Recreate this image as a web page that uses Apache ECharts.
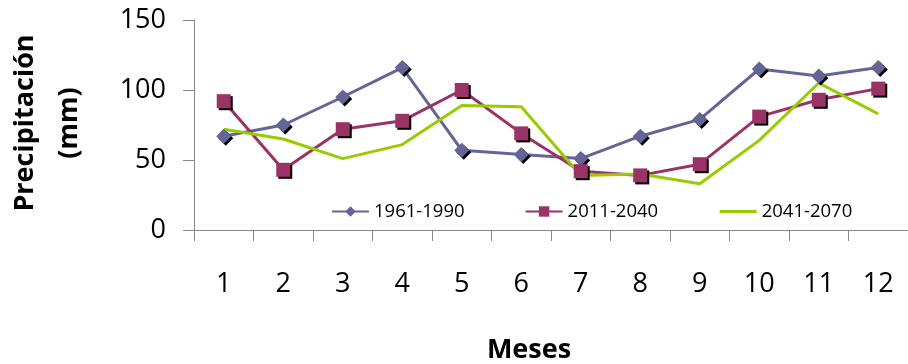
<!DOCTYPE html>
<html><head><meta charset="utf-8">
<script src="https://cdn.jsdelivr.net/npm/echarts@6/dist/echarts.min.js"></script>
<style>html,body{margin:0;padding:0;background:#fff}#c{width:908px;height:364px}</style>
</head><body><div id="c"></div>
<script>
const months = ['1','2','3','4','5','6','7','8','9','10','11','12'];
const seriesNames = ['1961-1990','2011-2040','2041-2070'];
const s1961 = [67, 75, 95, 116, 57, 54, 51, 67, 79, 115, 110, 116];
const s2011 = [92, 43, 72, 78, 100, 69, 42, 39, 47, 81, 93, 101];
const s2041 = [72, 65, 51, 61, 89, 88, 39, 40, 33, 64, 105, 83];
const yTicks = [0, 50, 100, 150];

const chart = echarts.init(document.getElementById('c'), null, {renderer:'canvas'});
const shadow = {shadowColor:'#000', shadowOffsetX:2, shadowOffsetY:2, shadowBlur:0};
const font = 'Open Sans';
chart.setOption({
  animation:false,
  backgroundColor:'#fff',
  grid:{left:194, top:20, width:716, height:210, containLabel:false},
  legend:{
    left:326, top:197, itemWidth:37, itemHeight:13, itemGap:60,
    textStyle:{fontFamily:font, fontSize:18.5, color:'#000'},
    data:[
      {name:seriesNames[0], itemStyle:{shadowBlur:0, shadowOffsetX:0, shadowOffsetY:0, shadowColor:'transparent'}},
      {name:seriesNames[1], itemStyle:{shadowBlur:0, shadowOffsetX:0, shadowOffsetY:0, shadowColor:'transparent'}},
      {name:seriesNames[2], itemStyle:{opacity:0}, lineStyle:{opacity:1, color:'#99cc00', width:3}}
    ]
  },
  xAxis:{
    type:'category', data:months, boundaryGap:true,
    axisLine:{lineStyle:{color:'#888', width:1}},
    axisTick:{show:true, length:11, alignWithLabel:false, lineStyle:{color:'#888'}},
    axisLabel:{fontFamily:font, fontSize:27, color:'#000', margin:41}
  },
  yAxis:{
    type:'value', min:yTicks[0], max:yTicks[yTicks.length-1], interval:50,
    splitLine:{show:false},
    axisLine:{show:true, lineStyle:{color:'#888', width:1}},
    axisTick:{show:true, length:11, lineStyle:{color:'#888'}},
    axisLabel:{fontFamily:font, fontSize:27, color:'#000', margin:28}
  },
  graphic:[
    {type:'text', x:47, y:123, rotation:Math.PI/2,
     style:{text:'Precipitación\n(mm)', fontFamily:font, fontWeight:'bold', fontSize:27, lineHeight:44,
            fill:'#000', align:'center', verticalAlign:'middle'}},
    {type:'text', x:529, y:350,
     style:{text:'Meses', fontFamily:font, fontWeight:'bold', fontSize:27,
            fill:'#000', align:'center', verticalAlign:'middle'}}
  ],
  series:[
    {name:seriesNames[0], type:'line', data:s1961, symbol:'diamond', symbolSize:15,
     lineStyle:{color:'#646496', width:3}, itemStyle:Object.assign({color:'#646496'}, shadow)},
    {name:seriesNames[1], type:'line', data:s2011, symbol:'rect', symbolSize:14,
     lineStyle:{color:'#993366', width:3}, itemStyle:Object.assign({color:'#993366'}, shadow)},
    {name:seriesNames[2], type:'line', data:s2041, symbol:'none', showSymbol:false,
     lineStyle:{color:'#99cc00', width:3}, itemStyle:{color:'#99cc00'}}
  ]
});
</script></body></html>
